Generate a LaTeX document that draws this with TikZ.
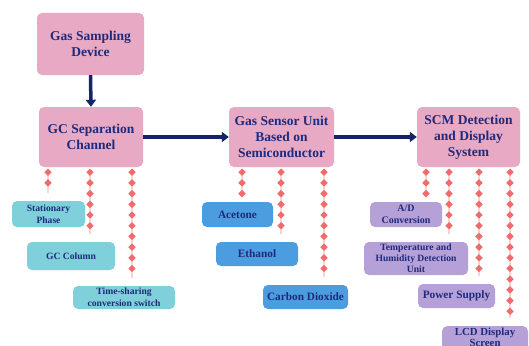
\documentclass[tikz,border=0pt]{standalone}
\usepackage{fontspec}
\setmainfont{Liberation Serif}
\usetikzlibrary{arrows.meta,decorations.markings,calc}
\definecolor{pinkbox}{HTML}{E7A9C4}
\definecolor{tealbox}{HTML}{80D0DC}
\definecolor{bluebox}{HTML}{4C9CE0}
\definecolor{purplebox}{HTML}{B5A1D8}
\definecolor{navytext}{HTML}{1F2A7C}
\definecolor{navyarrow}{HTML}{152466}
\definecolor{dotc}{HTML}{F06B6B}
\definecolor{dotline}{HTML}{F8D4D4}
\tikzset{
  mainbox/.style={draw=none, fill=pinkbox, rounded corners=5pt, text=navytext,
    font=\fontsize{13.5}{16}\selectfont\bfseries, align=center, inner sep=0pt},
  subbox/.style={draw=none, rounded corners=5pt, text=navytext,
    font=\fontsize{9.6}{12}\selectfont\bfseries, align=center, inner sep=0pt},
  flowarrow/.style={draw=navyarrow, line width=3.5pt, -{Triangle[width=10pt,length=7pt]}},
  dotconn/.style={draw=dotline, line width=2pt,
    postaction={decorate},
    decoration={markings, mark=between positions 0 and 1 step 10.7pt with
      {\fill[dotc] (0,3.7pt)--(3.7pt,0)--(0,-3.7pt)--(-3.7pt,0)--cycle;}}}
}
\begin{document}
\begin{tikzpicture}[x=1pt,y=-1pt]
\useasboundingbox (0,0) rectangle (529,345);
\clip (0,0) rectangle (529,345);
\fill[white] (0,0) rectangle (529,345);

% main boxes
\node[mainbox, minimum width=107pt, minimum height=62pt] (gsd) at (90.5,44) {Gas Sampling\\Device};
\node[mainbox, minimum width=104pt, minimum height=60pt] (gc) at (91,137) {GC Separation\\Channel};
\node[mainbox, minimum width=105pt, minimum height=60pt] (sen) at (281.5,137) {Gas Sensor Unit\\Based on\\Semiconductor};
\node[mainbox, minimum width=103pt, minimum height=60pt] (scm) at (468.5,137) {SCM Detection\\and Display\\System};

% arrows
\draw[flowarrow] (gsd.south) -- (gc.north);
\draw[flowarrow] (gc.east) -- (sen.west);
\draw[flowarrow] (sen.east) -- (scm.west);

% GC sub boxes
\node[subbox, fill=tealbox, minimum width=73pt, minimum height=26pt] (s1) at (48.5,214) {Stationary\\Phase};
\node[subbox, fill=tealbox, minimum width=88pt, minimum height=28pt] (s2) at (71,256) {GC Column};
\node[subbox, fill=tealbox, minimum width=102pt, minimum height=23pt] (s3) at (124,297.5) {Time-sharing\\conversion switch};

% sensor sub boxes
\node[subbox, fill=bluebox, minimum width=71pt, minimum height=25pt,
  font=\fontsize{11.3}{13}\selectfont\bfseries] (b1) at (237.5,214.5) {Acetone};
\node[subbox, fill=bluebox, minimum width=82pt, minimum height=24pt,
  font=\fontsize{11.3}{13}\selectfont\bfseries] (b2) at (257,254) {Ethanol};
\node[subbox, fill=bluebox, minimum width=85pt, minimum height=24pt,
  font=\fontsize{11.3}{13}\selectfont\bfseries] (b3) at (305.5,297) {Carbon Dioxide};

% SCM sub boxes
\node[subbox, fill=purplebox, minimum width=72pt, minimum height=25pt,
  font=\fontsize{10}{12}\selectfont\bfseries] (p1) at (406,214.5) {A/D\\Conversion};
\node[subbox, fill=purplebox, minimum width=104pt, minimum height=33pt,
  font=\fontsize{9.6}{11}\selectfont\bfseries] (p2) at (416,258.5) {Temperature and\\Humidity Detection\\Unit};
\node[subbox, fill=purplebox, minimum width=77pt, minimum height=24pt,
  font=\fontsize{11.3}{13}\selectfont\bfseries] (p3) at (456.5,296) {Power Supply};
\node[subbox, fill=purplebox, minimum width=86pt, anchor=north, inner ysep=1.5pt,
  font=\fontsize{10.8}{11.8}\selectfont\bfseries] (p4) at (485,326) {LCD Display\\Screen\\[4pt]};

% dotted connectors
\foreach \pn/\ch/\xx in {gc/s1/48, gc/s2/90, gc/s3/132,
    sen/b1/242, sen/b2/281, sen/b3/324,
    scm/p1/426, scm/p2/449, scm/p3/479, scm/p4/510} {
  \path (\pn.south) ++(0,5) coordinate (ptmp);
  \coordinate (top-\ch) at (\xx,0 |- ptmp);
  \path (\ch.north) ++(0,-8) coordinate (tmp);
  \coordinate (bot-\ch) at (top-\ch |- tmp);
  \draw[dotconn] (top-\ch) -- (bot-\ch);
}
\end{tikzpicture}
\end{document}
